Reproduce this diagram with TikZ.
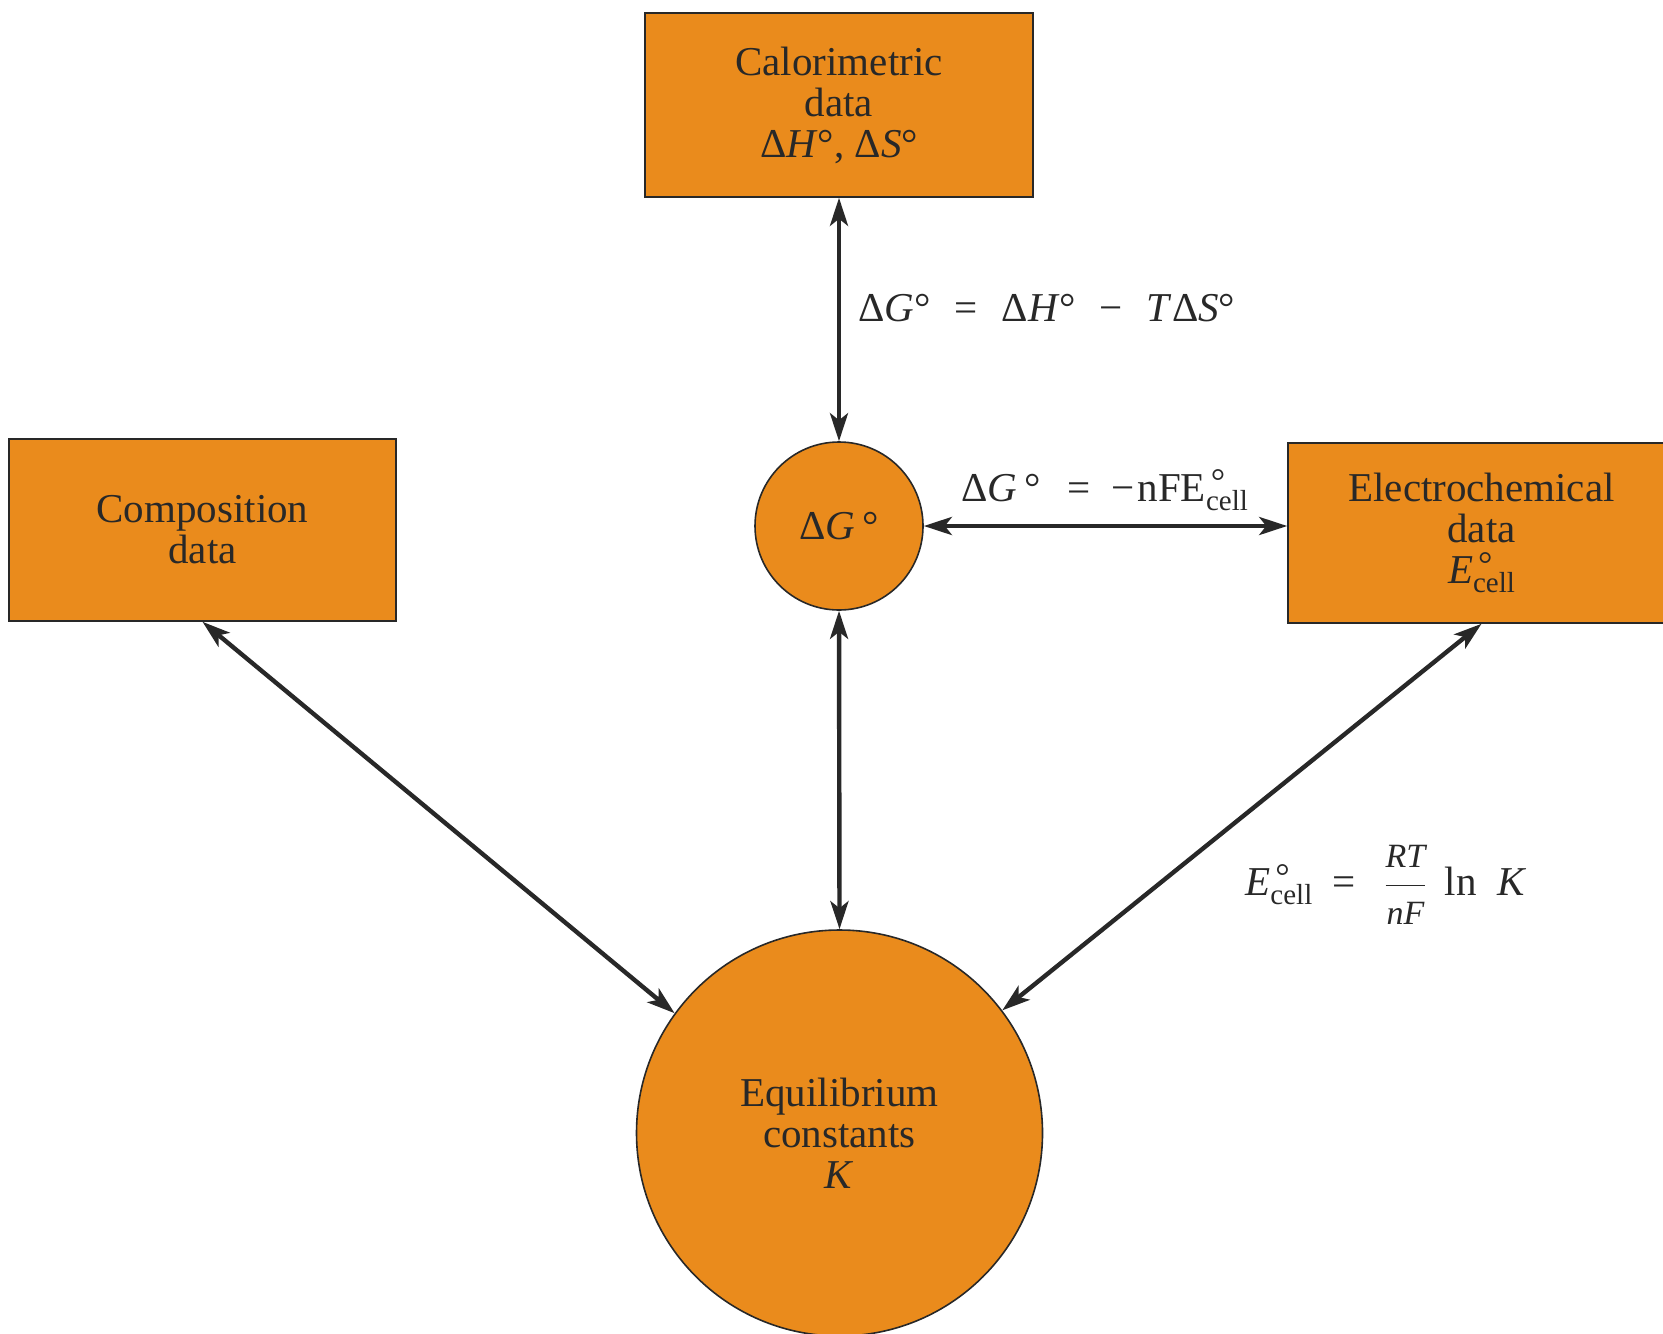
\documentclass[tikz,border=0pt]{standalone}
\usepackage{amsmath}
\usepackage{fontspec}
\setmainfont{Liberation Serif}
\usetikzlibrary{arrows.meta}
\definecolor{orangefill}{RGB}{234,139,28}
\definecolor{inkgray}{RGB}{40,40,40}
\newcommand{\celldeg}{\rlap{\kern0.12em\raisebox{0.18em}{\fontsize{18}{18}\selectfont °}}\raisebox{-0.22em}{\fontsize{14.5}{14.5}\selectfont cell}}
\newcommand{\Ecellsym}{\textit{E}\celldeg}
\newcommand{\opgap}{\ \hspace{1.7pt}}
\begin{document}
\begin{tikzpicture}[x=0.5pt,y=-0.5pt,
  every node/.style={text=inkgray,font=\fontsize{20.5}{20.5}\selectfont},
  databox/.style={draw=inkgray,line width=0.8pt,fill=orangefill,rectangle,inner sep=0pt,align=center},
  datacirc/.style={draw=inkgray,line width=0.8pt,fill=orangefill,circle,inner sep=0pt,align=center},
  link/.style={draw=inkgray,line width=2.2pt,{Stealth[length=14pt,width=9pt,inset=3.5pt]}-{Stealth[length=14pt,width=9pt,inset=3.5pt]}},
  eqlabel/.style={anchor=west,inner sep=0pt}]
\useasboundingbox (0,0) rectangle (1663,1333);
\begin{scope}
\clip (0,0) rectangle (1663,1333);
\node[databox,minimum width=194pt,minimum height=92pt] (cal) at (839,105)
  {Calorimetric\\data\\Δ\textit{H}°, Δ\textit{S}°};
\node[databox,minimum width=193.5pt,minimum height=91pt] (comp) at (202.5,530)
  {Composition\\data};
\node[databox,minimum width=193.5pt,minimum height=90pt] (elec) at (1481.5,533)
  {Electrochemical\\data\\\Ecellsym};
\node[datacirc,minimum size=84pt] (dg) at (839,526) {Δ\textit{G}\,°};
\node[datacirc,minimum size=203pt] (K) at (839.5,1133)
  {Equilibrium\\constants\\\textit{K}};
\end{scope}
\draw[link] (cal.south) -- (dg.north);
\draw[link] (dg.east) -- (dg.east -| elec.west);
\draw[link] (dg.south) -- (K.north);
\draw[link] (comp.south) -- (K.144);
\draw[link] (elec.south) -- (K.37);
\node[eqlabel] (eq1) at (858,308) {Δ\textit{G}° \opgap= \opgap Δ\textit{H}° \opgap− \opgap\textit{T}Δ\textit{S}°};
\node[eqlabel] (eq2) at (961,490) {Δ\textit{G}\,° \ \,= \ −\hspace{1.5pt}nFE\celldeg};
\node[eqlabel] (eq3) at (1245,885) {\Ecellsym\ \ = \ \,$\dfrac{\text{\fontsize{17}{17}\selectfont\itshape RT}}{\text{\fontsize{17}{17}\selectfont\itshape nF}}$\, ln \ \textit{K}};
\end{tikzpicture}
\end{document}
